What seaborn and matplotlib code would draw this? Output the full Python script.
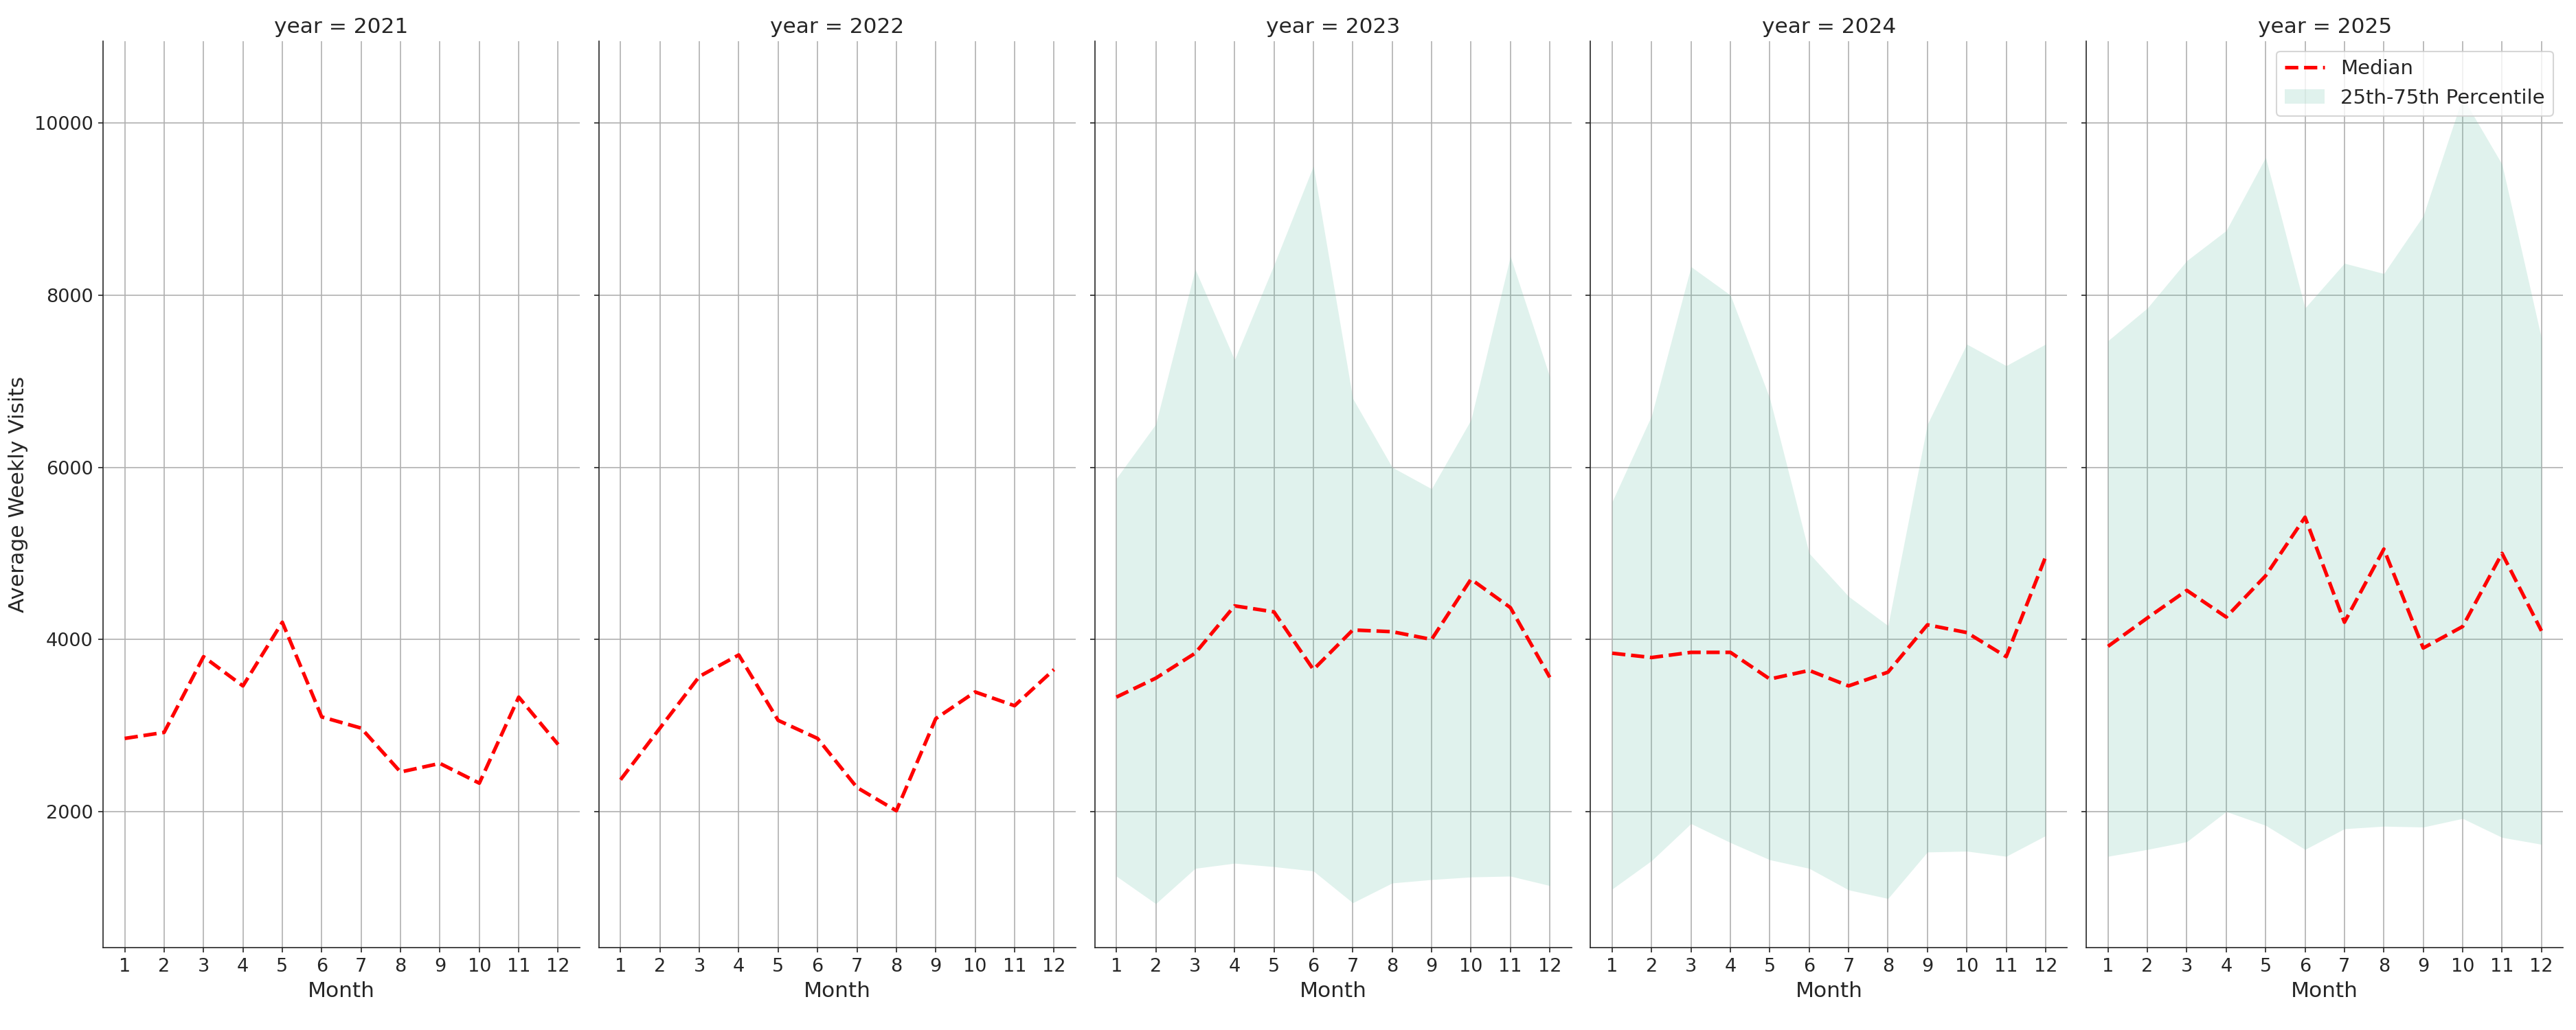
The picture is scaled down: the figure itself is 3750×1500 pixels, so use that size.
import matplotlib
matplotlib.use("Agg")
import matplotlib.pyplot as plt
import seaborn as sns
import pandas as pd
import numpy as np

months = list(range(1, 13))
years = [2021, 2022, 2023, 2024, 2025]
median = {
    2021: [2850, 2920, 3800, 3460, 4200, 3100, 2970, 2460, 2560, 2330, 3330, 2780],
    2022: [2370, 2970, 3570, 3820, 3060, 2850, 2280, 2010, 3080, 3390, 3230, 3650],
    2023: [3330, 3550, 3840, 4390, 4320, 3650, 4110, 4090, 4000, 4700, 4370, 3560],
    2024: [3840, 3790, 3850, 3850, 3540, 3640, 3460, 3620, 4170, 4080, 3800, 4960],
    2025: [3920, 4250, 4570, 4260, 4740, 5420, 4200, 5050, 3900, 4150, 5000, 4100],
}
p75 = {
    2023: [5870, 6500, 8300, 7250, 8350, 9500, 6800, 6000, 5750, 6550, 8450, 7050],
    2024: [5600, 6600, 8330, 8000, 6800, 5000, 4500, 4160, 6500, 7430, 7180, 7430],
    2025: [7470, 7850, 8400, 8750, 9600, 7850, 8370, 8250, 8920, 10300, 9520, 7500],
}
p25 = {
    2023: [1250, 930, 1340, 1400, 1360, 1310, 940, 1170, 1210, 1240, 1250, 1140],
    2024: [1100, 1430, 1860, 1640, 1440, 1340, 1090, 990, 1530, 1540, 1480, 1720],
    2025: [1480, 1560, 1650, 2000, 1840, 1560, 1800, 1830, 1820, 1920, 1700, 1620],
}

sns.set_style("white")
plt.rcParams['font.family'] = ['DejaVu Sans']
fig, axes = plt.subplots(1, 5, figsize=(25, 10), dpi=150, sharey=True)
for ax, y in zip(axes, years):
    df = pd.DataFrame({"Month": months, "v": median[y]})
    if y in p75:
        ax.fill_between(months, p25[y], p75[y], color="#66c2a5", alpha=0.2, lw=0,
                        label="25th-75th Percentile")
    sns.lineplot(data=df, x="Month", y="v", ax=ax, color="red", ls="--", lw=2.5,
                 label="Median", legend=False)
    ax.set_title(f"year = {y}", fontsize=15)
    ax.set_xticks(months)
    ax.tick_params(labelsize=13, left=True, bottom=True)
    ax.set_xlabel("Month", fontsize=15)
    ax.set_ylabel("")
    ax.grid(True, color="#b0b0b0", lw=0.8)
    ax.set_xlim(0.45, 12.55)
    sns.despine(ax=ax)
axes[0].set_ylim(420, 10950)
axes[0].set_ylabel("Average Weekly Visits", fontsize=15)
h, l = axes[4].get_legend_handles_labels()
order = [l.index("Median"), l.index("25th-75th Percentile")]
axes[4].legend([h[i] for i in order], [l[i] for i in order], loc="upper right", fontsize=14)
plt.subplots_adjust(left=0.04, right=0.995, bottom=0.08, top=0.96, wspace=0.04)
fig.savefig("out.png")
